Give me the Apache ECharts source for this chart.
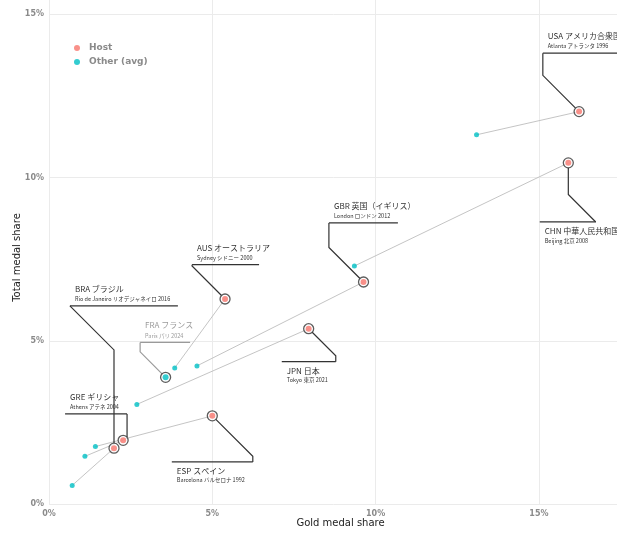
<!DOCTYPE html>
<html>
<head>
<meta charset="utf-8">
<script src="https://cdn.jsdelivr.net/npm/echarts@6/dist/echarts.min.js"></script>
<style>html,body{margin:0;padding:0;background:#fff;}#chart{width:617px;height:533px;}</style>
</head>
<body>
<div id="chart"></div>
<script>
// ---- data ----
const countries = ['USA','CHN','GBR','AUS','BRA','FRA','JPN','GRE','ESP'];
const titles = ['USA アメリカ合衆国','CHN 中華人民共和国','GBR 英国（イギリス）','AUS オーストラリア','BRA ブラジル','FRA フランス','JPN 日本','GRE ギリシャ','ESP スペイン'];
const descriptions = ['Atlanta アトランタ 1996','Beijing 北京 2008','London ロンドン 2012','Sydney シドニー 2000','Rio de Janeiro リオデジャネイロ 2016','Paris パリ 2024','Tokyo 東京 2021','Athens アテネ 2004','Barcelona バルセロナ 1992'];
const hostGold  = [16.23, 15.90, 9.63, 5.39, 1.99, 3.57, 7.95, 2.27, 5.00];
const hostTotal = [12.02, 10.45, 6.80, 6.28, 1.71, 3.88, 5.37, 1.95, 2.70];
const avgGold   = [13.09, 9.35, 4.53, 3.85, 0.71, null, 2.69, 1.10, 1.42];
const avgTotal  = [11.31, 7.29, 4.23, 4.17, 0.57, null, 3.05, 1.46, 1.76];
const xTicks = [0, 5, 10, 15];
const yTicks = [0, 5, 10, 15];

// ---- annotation layout (label anchor = underline end nearest the connector) ----
const labelAnchorX = [15.12, 16.74, 8.57, 4.38, 0.64, 2.79, 8.78, 2.39, 6.24];
const labelAnchorY = [13.81, 8.64, 8.61, 7.33, 6.07, 4.95, 4.36, 2.76, 1.29];
const labelSide   = ['L','R','L','L','L','L','R','R','R'];
const labelAbove  = [true,false,true,true,true,true,false,true,false];
const labelWidth  = [80, 56, 69, 67, 108, 50, 54, 62, 81];
const elbowNearLabel = [true,false,true,true,false,true,true,true,true];
const labelMuted  = [false,false,false,false,false,true,false,false,false];

const RED = '#F8766D', TEAL = '#00BFC4';

const chart = echarts.init(document.getElementById('chart'), null, {renderer:'canvas'});

const hostData = countries.map((c,i)=>({
  value:[hostGold[i], hostTotal[i]],
  itemStyle:{color: c==='FRA' ? TEAL : RED}
}));
const avgData = [];
countries.forEach((c,i)=>{ if (avgGold[i]!=null) avgData.push([avgGold[i], avgTotal[i]]); });
const linkData = [];
countries.forEach((c,i)=>{ if (avgGold[i]!=null) linkData.push({coords:[[hostGold[i],hostTotal[i]],[avgGold[i],avgTotal[i]]]}); });

const CJK = '"Noto Sans CJK JP", "Noto Sans", sans-serif';

function renderAnnotation(params, api){
  const i = api.value(2);
  const P = api.coord([hostGold[i], hostTotal[i]]);
  const E = api.coord([labelAnchorX[i], labelAnchorY[i]]);
  const col = labelMuted[i] ? '#9a9a9a' : '#333333';
  const dx = P[0]-E[0], dy = P[1]-E[1];
  const adx = Math.abs(dx), ady = Math.abs(dy);
  const sy = Math.sign(dy)||1, sx = Math.sign(dx)||1;
  let M;
  if (ady >= adx) {
    if (elbowNearLabel[i]) M = [E[0], E[1] + sy*(ady-adx)];
    else M = [P[0], E[1] + sy*adx];
  } else {
    if (elbowNearLabel[i]) M = [E[0] + sx*(adx-ady), E[1]];
    else M = [E[0] + sx*ady, P[1]];
  }
  const lx = P[0]-M[0], ly = P[1]-M[1];
  const len = Math.sqrt(lx*lx+ly*ly);
  const r = 5;
  let Q = (len > r) ? [P[0]-lx/len*r, P[1]-ly/len*r] : M;
  const uLeft = labelSide[i]==='L' ? E[0] : E[0]-labelWidth[i];
  const uRight = uLeft + labelWidth[i];
  const tx = uLeft + 5;
  const tY = labelAbove[i] ? E[1]-17 : E[1]+9;
  const dY = labelAbove[i] ? E[1]-7 : E[1]+18.5;
  return {
    type:'group',
    children:[
      {type:'polyline', shape:{points:[[uRight,E[1]],[uLeft,E[1]]]}, style:{stroke:col, lineWidth:1.3, fill:null}},
      {type:'polyline', shape:{points:[E, M, Q]}, style:{stroke:col, lineWidth:1.2, fill:null}},
      {type:'text', style:{text:titles[i], x:tx, y:tY, fill:col, fontSize:8, fontFamily:CJK, verticalAlign:'middle', align:'left'}},
      {type:'text', style:{text:descriptions[i], x:tx, y:dY, fill:col, fontSize:5.5, fontFamily:CJK, verticalAlign:'middle', align:'left'}}
    ]
  };
}

const axisLabelStyle = {color:'#8a8a8a', fontSize:8, fontWeight:'bold', fontFamily:'"DejaVu Sans", sans-serif', formatter: v => (xTicks.indexOf(v)>=0 || yTicks.indexOf(v)>=0) ? v+'%' : ''};

const option = {
  animation:false,
  backgroundColor:'#ffffff',
  grid:{left:49, right:-15, top:-1, bottom:29, containLabel:false, outerBoundsMode:'none'},
  legend:{
    orient:'vertical', left:69, top:37, itemWidth:14, itemHeight:6, itemGap:2,
    icon:'circle',
    data:['Host','Other (avg)'],
    textStyle:{color:'#8a8a8a', fontSize:9, fontWeight:'bold', fontFamily:'"DejaVu Sans", sans-serif', lineHeight:12}
  },
  xAxis:{
    type:'value', min:0, max:17.85, interval:5,
    name:'Gold medal share', nameLocation:'middle', nameGap:14, nameMoveOverlap:false,
    nameTextStyle:{color:'#222', fontSize:10, fontFamily:'"DejaVu Sans", sans-serif'},
    axisLine:{show:false}, axisTick:{show:false},
    axisLabel:Object.assign({margin:6, showMaxLabel:false}, axisLabelStyle),
    splitLine:{show:true, lineStyle:{color:'#EBEBEB', width:1}}
  },
  yAxis:{
    type:'value', min:0, max:15.47, interval:5,
    name:'Total medal share', nameLocation:'middle', nameGap:27, nameMoveOverlap:false,
    nameTextStyle:{color:'#222', fontSize:10, fontFamily:'"DejaVu Sans", sans-serif', padding:[0,12,0,0]},
    axisLine:{show:false}, axisTick:{show:false},
    axisLabel:Object.assign({margin:5, showMaxLabel:false}, axisLabelStyle),
    splitLine:{show:true, lineStyle:{color:'#EBEBEB', width:1}}
  },
  series:[
    {type:'lines', coordinateSystem:'cartesian2d', data:linkData, silent:true, z:1,
     lineStyle:{color:'#BDBDBD', width:0.9, opacity:1}},
    {type:'custom', name:'annotations', coordinateSystem:'cartesian2d', clip:false, silent:true, z:2,
     renderItem:renderAnnotation,
     data:countries.map((c,i)=>[hostGold[i], hostTotal[i], i])},
    {type:'scatter', name:'ring', data:countries.map((c,i)=>[hostGold[i],hostTotal[i]]), symbolSize:10, z:3, silent:true,
     itemStyle:{color:'rgba(255,255,255,0.75)', borderColor:'#333', borderWidth:1.3}},
    {type:'scatter', name:'Host', data:hostData, symbolSize:6, z:4, itemStyle:{color:RED}},
    {type:'scatter', name:'Other (avg)', data:avgData, symbolSize:5, z:4, itemStyle:{color:TEAL}}
  ]
};
chart.setOption(option);
</script>
</body>
</html>
